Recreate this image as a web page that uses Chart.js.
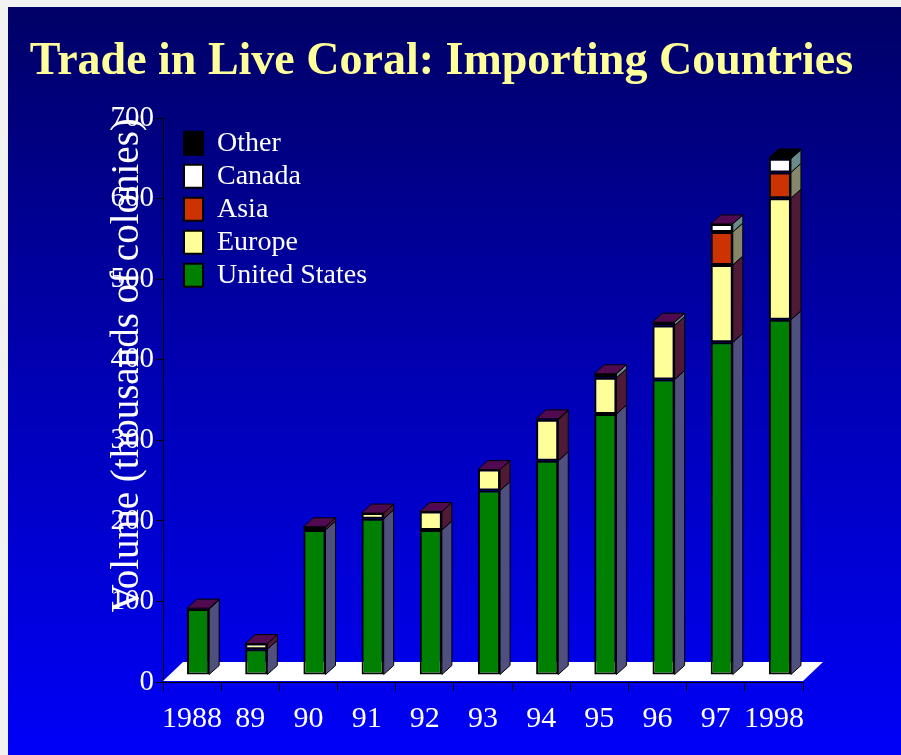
<!DOCTYPE html>
<html>
<head>
<meta charset="utf-8">
<script src="https://cdn.jsdelivr.net/npm/chart.js@4.4.1/dist/chart.umd.min.js"></script>
<style>
  html, body { margin: 0; padding: 0; background: #f2f2f2; }
  #wrap { width: 901px; height: 755px; }
</style>
</head>
<body>
<div id="wrap"><canvas id="c" width="901" height="755"></canvas></div>
<script>
// ---- data ----
const years = ['1988', '89', '90', '91', '92', '93', '94', '95', '96', '97', '1998'];
const unitedStates = [82, 32, 180, 194, 180, 229, 266, 324, 367, 413, 441];
const europe       = [1, 7, 4, 7, 23, 26, 51, 45, 67, 96, 151];
const asia         = [0, 0, 0, 0, 0, 0, 0, 0, 0, 41, 32];
const canada       = [0, 0, 0, 0, 0, 0, 1, 5, 4, 10, 17];
const other        = [0, 0, 0, 0, 0, 0, 0, 0, 0, 0, 1];
const seriesNames  = ['United States', 'Europe', 'Asia', 'Canada', 'Other'];
const yMin = 0, yMax = 700, yStep = 100;

// ---- styles ----
const frontColors = ['#008000', '#ffff99', '#cc3300', '#ffffff', '#000000'];
const sideColors  = ['#50507f', '#4f1a35', '#86866a', '#6a8a8a', '#000000'];
const topColors   = ['#500a50', '#500a50', '#500a50', '#500a50', '#000000'];
const serif = "'Liberation Serif', 'Times New Roman', serif";
const depth = { dx: 10, dy: 9 };
const shift = { x: 6, y: -7 };

const seriesValues = [unitedStates, europe, asia, canada, other];

const background = {
  id: 'background',
  beforeDraw(chart) {
    const { ctx, width, height } = chart;
    ctx.save();
    ctx.fillStyle = '#f2f2f2';
    ctx.fillRect(0, 0, width, height);
    const g = ctx.createLinearGradient(0, 7, 0, height);
    g.addColorStop(0, '#000066');
    g.addColorStop(0.5, '#0000b4');
    g.addColorStop(1, '#0000f8');
    ctx.fillStyle = g;
    ctx.fillRect(8, 7, width - 8, height - 7);
    ctx.restore();
  }
};

const legendPlace = {
  id: 'legendPlace',
  afterLayout(chart) {
    const lg = chart.legend;
    if (lg) {
      const a = chart.chartArea;
      const w = lg.width, h = lg.height;
      lg.left = a.left + 16;
      lg.top = a.top + 6;
      lg.right = lg.left + w;
      lg.bottom = lg.top + h;
    }
  }
};

const bar3d = {
  id: 'bar3d',
  beforeDatasetsDraw(chart) {
    const { ctx, chartArea: a } = chart;
    ctx.save();
    ctx.fillStyle = '#ffffff';
    ctx.beginPath();
    ctx.moveTo(a.left, a.bottom - 1);
    ctx.lineTo(a.right, a.bottom - 1);
    ctx.lineTo(a.right + 20, a.bottom - 20);
    ctx.lineTo(a.left + 20, a.bottom - 20);
    ctx.closePath();
    ctx.fill();
    ctx.restore();
    ctx.save();
    ctx.translate(shift.x, shift.y);
  },
  afterDatasetsDraw(chart) {
    const ctx = chart.ctx;
    const n = chart.data.labels.length;
    ctx.lineWidth = 1;
    ctx.strokeStyle = '#000000';
    for (let i = 0; i < n; i++) {
      let top = null;
      chart.data.datasets.forEach((ds, d) => {
        const v = ds.data[i];
        if (!v) return;
        const el = chart.getDatasetMeta(d).data[i];
        const r = el.x + el.width / 2, y = el.y, b = el.base;
        ctx.fillStyle = sideColors[d];
        ctx.beginPath();
        ctx.moveTo(r, y);
        ctx.lineTo(r + depth.dx, y - depth.dy);
        ctx.lineTo(r + depth.dx, b - depth.dy);
        ctx.lineTo(r, b);
        ctx.closePath();
        ctx.fill();
        ctx.stroke();
        top = { el, d };
      });
      if (top) {
        const el = top.el;
        const l = el.x - el.width / 2, r = el.x + el.width / 2, y = el.y;
        ctx.fillStyle = topColors[top.d];
        ctx.beginPath();
        ctx.moveTo(l, y);
        ctx.lineTo(r, y);
        ctx.lineTo(r + depth.dx, y - depth.dy);
        ctx.lineTo(l + depth.dx, y - depth.dy);
        ctx.closePath();
        ctx.fill();
        ctx.stroke();
      }
    }
    ctx.restore();
  }
};

Chart.defaults.font.family = serif;

new Chart(document.getElementById('c'), {
  type: 'bar',
  data: {
    labels: years,
    datasets: seriesNames.map((name, d) => ({
      label: name,
      data: seriesValues[d].map(v => v || null),
      backgroundColor: frontColors[d],
      borderColor: '#000000',
      borderWidth: 2,
      borderSkipped: false,
      barPercentage: 0.38,
      categoryPercentage: 1.0,
      yAxisID: 'y'
    }))
  },
  options: {
    responsive: false,
    animation: false,
    layout: { padding: { left: 0, right: 18, top: 0, bottom: 23 } },
    plugins: {
      title: {
        display: true,
        text: 'Trade in Live Coral: Importing Countries',
        color: '#ffff99',
        font: { family: serif, size: 46, weight: 'bold' },
        padding: { top: 35, bottom: 28 }
      },
      legend: {
        position: 'chartArea',
        align: 'start',
        reverse: true,
        labels: {
          color: '#ffffff',
          font: { family: serif, size: 28 },
          boxWidth: 19,
          boxHeight: 23,
          padding: 5
        }
      },
      tooltip: { enabled: false }
    },
    scales: {
      x: {
        stacked: true,
        offset: true,
        grid: { display: true, offset: true, drawOnChartArea: false, drawTicks: true, tickLength: 9, color: '#000000' },
        border: { display: true, color: '#000000', width: 1 },
        ticks: { color: '#ffffff', font: { family: serif, size: 30 }, padding: 10, autoSkip: false, maxRotation: 0 },
        afterFit(scale) { scale.height = 50; }
      },
      y: {
        stacked: true,
        min: yMin,
        max: yMax,
        grid: { display: true, drawOnChartArea: false, drawTicks: true, tickLength: 7, color: '#000000' },
        border: { display: true, color: '#000000', width: 1 },
        ticks: { stepSize: yStep, color: '#ffffff', font: { family: serif, size: 29 }, padding: 2 },
        title: {
          display: true,
          text: 'Volume (thousands of colonies)',
          color: '#ffffff',
          align: 'end',
          font: { family: serif, size: 39 },
          padding: { top: 104, bottom: 0 }
        },
        afterFit(scale) { scale.width = 163; }
      },
      ySpace: {
        type: 'linear',
        position: 'right',
        display: true,
        grid: { display: false },
        border: { display: false },
        ticks: { display: false },
        afterFit(scale) { scale.width = 80; }
      }
    }
  },
  plugins: [background, legendPlace, bar3d]
});
</script>
</body>
</html>
